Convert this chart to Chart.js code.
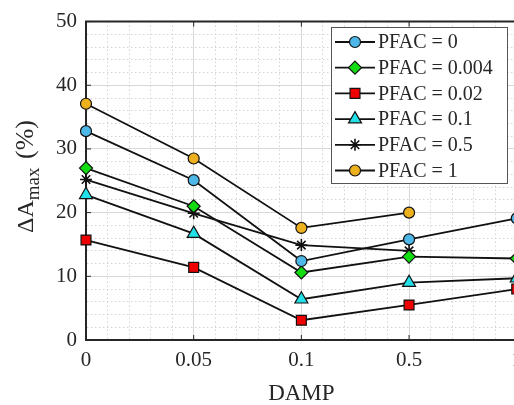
<!DOCTYPE html>
<html>
<head>
<meta charset="utf-8">
<script src="https://cdn.jsdelivr.net/npm/chart.js@4.4.0/dist/chart.umd.min.js"></script>
<style>
html, body { margin: 0; padding: 0; background: #fff; overflow: hidden; width: 514px; height: 405px; }
#wrap { width: 530px; height: 405px; }
</style>
</head>
<body>
<div id="wrap"><canvas id="myChart" width="530" height="405"></canvas></div>
<script>
// data
var damp_labels = ['0', '0.05', '0.1', '0.5', '1'];
var pfac_names = ['PFAC = 0', 'PFAC = 0.004', 'PFAC = 0.02', 'PFAC = 0.1', 'PFAC = 0.5', 'PFAC = 1'];
var pfac_0 = [32.8, 25.1, 12.4, 15.8, 19.1];
var pfac_0004 = [27.0, 21.0, 10.6, 13.1, 12.8];
var pfac_002 = [15.7, 11.4, 3.1, 5.5, 8.0];
var pfac_01 = [22.8, 16.7, 6.4, 9.0, 9.7];
var pfac_05 = [25.2, 19.9, 14.9, 14.0, null];
var pfac_1 = [37.1, 28.5, 17.6, 20.0, null];
var y_ticks = [0, 10, 20, 30, 40, 50];

var FONT = "'Liberation Serif', 'Times New Roman', serif";
var TXT = '#262626';

function to_points(values) {
    var pts = [];
    for (var i = 0; i < values.length; i++) {
        pts.push({x: i, y: values[i]});
    }
    return pts;
}

function is_major_x(v) {
    return Math.abs(v - Math.round(v)) < 1e-6;
}

function is_major_y(v) {
    return y_ticks.indexOf(Math.round(v)) >= 0 && Math.abs(v - Math.round(v)) < 1e-6;
}

function make_set(label, values, style, fill, radius) {
    return {
        label: label,
        data: to_points(values),
        borderColor: '#111',
        borderWidth: 1.8,
        pointStyle: style,
        pointRadius: radius,
        pointHoverRadius: radius,
        pointBackgroundColor: fill,
        pointBorderColor: '#111',
        pointBorderWidth: style == 'star' ? 1.6 : 1.2,
        tension: 0,
        clip: false
    };
}

var sets = [
    make_set(pfac_names[0], pfac_0, 'circle', '#4db8e8', 5.5),
    make_set(pfac_names[1], pfac_0004, 'rectRot', '#11dd11', 6.5),
    make_set(pfac_names[2], pfac_002, 'rect', '#ee0000', 7),
    make_set(pfac_names[3], pfac_01, 'triangle', '#22e0e8', 7.5),
    make_set(pfac_names[4], pfac_05, 'star', '#111', 6),
    make_set(pfac_names[5], pfac_1, 'circle', '#edb120', 5.5)
];

// box on top/right + inner tick marks
var framePlugin = {
    id: 'frame',
    beforeDatasetsDraw: function(chart) {
        var ctx = chart.ctx;
        var a = chart.chartArea;
        var xs = chart.scales.x, ys = chart.scales.y;
        ctx.save();
        ctx.strokeStyle = TXT;
        ctx.lineWidth = 2;
        ctx.beginPath();
        ctx.moveTo(a.left - 1, a.top);
        ctx.lineTo(a.right, a.top);
        ctx.lineTo(a.right, a.bottom);
        ctx.stroke();
        ctx.lineWidth = 1;
        ctx.beginPath();
        for (var i = 0; i < damp_labels.length; i++) {
            var px = xs.getPixelForValue(i);
            ctx.moveTo(px, a.bottom);
            ctx.lineTo(px, a.bottom - 5);
            ctx.moveTo(px, a.top);
            ctx.lineTo(px, a.top + 5);
        }
        for (var j = 0; j < y_ticks.length; j++) {
            var py = ys.getPixelForValue(y_ticks[j]);
            ctx.moveTo(a.left, py);
            ctx.lineTo(a.left + 5, py);
        }
        ctx.stroke();
        ctx.restore();
    }
};

// legend box like the matlab one
var legendPlugin = {
    id: 'boxLegend',
    afterDatasetsDraw: function(chart) {
        var ctx = chart.ctx;
        var bx = 331, by = 27, bw = 176, bh = 156;
        ctx.save();
        ctx.fillStyle = '#fff';
        ctx.fillRect(bx, by, bw, bh);
        ctx.strokeStyle = '#555';
        ctx.lineWidth = 1;
        ctx.strokeRect(bx + 0.5, by + 0.5, bw, bh);
        ctx.font = '20px ' + FONT;
        ctx.textBaseline = 'middle';
        ctx.textAlign = 'left';
        for (var i = 0; i < sets.length; i++) {
            var d = sets[i];
            var y = 42 + i * 25.7;
            ctx.strokeStyle = d.borderColor;
            ctx.lineWidth = d.borderWidth;
            ctx.beginPath();
            ctx.moveTo(335, y);
            ctx.lineTo(375, y);
            ctx.stroke();
            ctx.fillStyle = d.pointBackgroundColor;
            ctx.strokeStyle = d.pointBorderColor;
            ctx.lineWidth = d.pointBorderWidth;
            Chart.helpers.drawPoint(ctx, {
                pointStyle: d.pointStyle,
                radius: d.pointRadius,
                rotation: 0,
                borderWidth: d.pointBorderWidth
            }, 355, y);
            ctx.fillStyle = TXT;
            ctx.fillText(d.label, 378, y + 1);
        }
        ctx.restore();
    }
};

// y title with subscript: ΔA_max (%)
var yTitlePlugin = {
    id: 'yTitle',
    afterDraw: function(chart) {
        var ctx = chart.ctx;
        ctx.save();
        ctx.translate(33, 233);
        ctx.rotate(-Math.PI / 2);
        ctx.fillStyle = TXT;
        ctx.textBaseline = 'alphabetic';
        ctx.textAlign = 'left';
        ctx.font = '24px ' + FONT;
        var pos = 0;
        ctx.fillText('\u0394A', pos, 0);
        pos += ctx.measureText('\u0394A').width;
        ctx.font = '19px ' + FONT;
        ctx.fillText('max', pos, 6);
        pos += ctx.measureText('max').width;
        ctx.font = '26px ' + FONT;
        ctx.fillText(' (%)', pos + 2, 0);
        ctx.restore();
    }
};

var ctx = document.getElementById('myChart').getContext('2d');
var myChart = new Chart(ctx, {
    type: 'line',
    data: { datasets: sets },
    plugins: [framePlugin, legendPlugin, yTitlePlugin],
    options: {
        responsive: false,
        animation: false,
        events: [],
        layout: { padding: { top: 16, right: 12, left: 0, bottom: 0 } },
        plugins: {
            legend: { display: false },
            tooltip: { enabled: false }
        },
        scales: {
            x: {
                type: 'linear',
                min: 0,
                max: damp_labels.length - 1,
                afterFit: function(scale) { scale.height = 65; },
                ticks: {
                    stepSize: 0.2,
                    autoSkip: false,
                    maxRotation: 0,
                    padding: 8,
                    color: TXT,
                    font: { family: FONT, size: 21 },
                    callback: function(value) {
                        return is_major_x(value) ? damp_labels[Math.round(value)] : '';
                    }
                },
                grid: {
                    drawTicks: false,
                    color: function(c) {
                        if (!c.tick) return '#d8d8d8';
                        return is_major_x(c.tick.value) ? '#d8d8d8' : '#d4d4d4';
                    },
                    lineWidth: 1
                },
                border: {
                    color: TXT,
                    width: 2,
                    dash: function(c) {
                        if (!c.tick) return [];
                        return is_major_x(c.tick.value) ? [] : [1.5, 2.5];
                    }
                },
                title: {
                    display: true,
                    text: 'DAMP',
                    color: TXT,
                    font: { family: FONT, size: 23, lineHeight: 1 },
                    padding: { top: 0, bottom: 0 }
                }
            },
            y: {
                min: 0,
                max: 50,
                afterFit: function(scale) { scale.width = 86; },
                ticks: {
                    stepSize: 2,
                    autoSkip: false,
                    padding: 9,
                    color: TXT,
                    font: { family: FONT, size: 21 },
                    callback: function(value) {
                        return is_major_y(value) ? String(value) : '';
                    }
                },
                grid: {
                    drawTicks: false,
                    color: function(c) {
                        if (!c.tick) return '#d8d8d8';
                        return is_major_y(c.tick.value) ? '#d8d8d8' : '#d4d4d4';
                    },
                    lineWidth: 1
                },
                border: {
                    color: TXT,
                    width: 2,
                    dash: function(c) {
                        if (!c.tick) return [];
                        return is_major_y(c.tick.value) ? [] : [1.5, 2.5];
                    }
                },
                title: { display: false }
            }
        }
    }
});
</script>
</body>
</html>
